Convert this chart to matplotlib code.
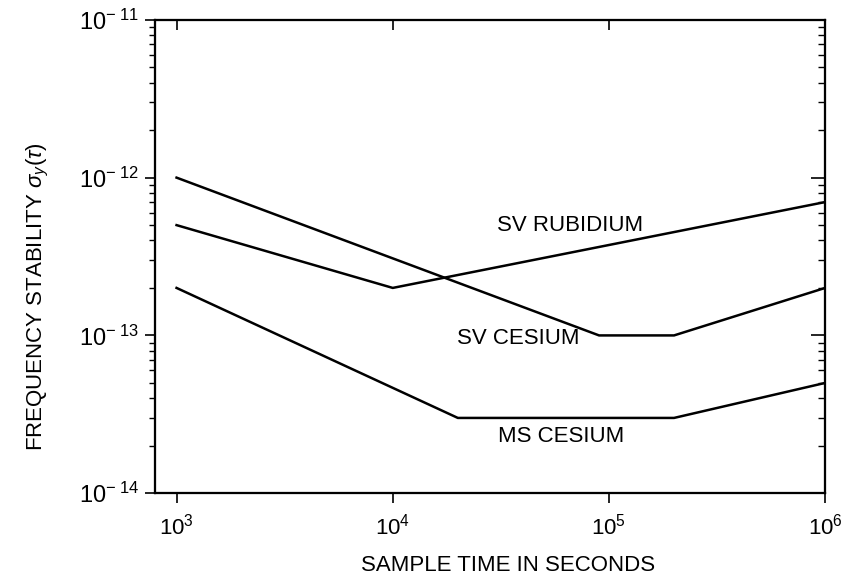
import matplotlib
matplotlib.use("Agg")
import matplotlib.pyplot as plt
from matplotlib.ticker import FixedLocator, LogLocator, NullFormatter

plt.rcParams['font.family'] = ['Liberation Sans', 'DejaVu Sans']
plt.rcParams['mathtext.fontset'] = 'custom'
plt.rcParams['mathtext.rm'] = 'Liberation Sans'
plt.rcParams['mathtext.it'] = 'Liberation Sans:italic'
plt.rcParams['mathtext.sf'] = 'Liberation Sans'

# data (sample time in s, sigma_y)
rb_tau = [1e3, 1e4, 1e6]
rb_sig = [5e-13, 2e-13, 7e-13]

svcs_tau = [1e3, 9e4, 2e5, 1e6]
svcs_sig = [1e-12, 1e-13, 1e-13, 2e-13]

mscs_tau = [1e3, 2e4, 2e5, 1e6]
mscs_sig = [2e-13, 3e-14, 3e-14, 5e-14]

x_ticks = [1e3, 1e4, 1e5, 1e6]
x_labels = [r'$10^{3}$', r'$10^{4}$', r'$10^{5}$', r'$10^{6}$']
y_ticks = [1e-14, 1e-13, 1e-12, 1e-11]
y_labels = [r'$10^{-\ 14}$', r'$10^{-\ 13}$', r'$10^{-\ 12}$', r'$10^{-\ 11}$']

fig = plt.figure(figsize=(8.42, 5.83), dpi=100)
ax = fig.add_axes([0.184, 0.154, 0.796, 0.812])

lw = 1.8
ax.plot(rb_tau, rb_sig, color='black', lw=lw)
ax.plot(svcs_tau, svcs_sig, color='black', lw=lw)
ax.plot(mscs_tau, mscs_sig, color='black', lw=lw)

ax.set_xscale('log')
ax.set_yscale('log')
ax.set_xlim(10 ** 2.9, 1e6)
ax.set_ylim(1e-14, 1e-11)

ax.xaxis.set_major_locator(FixedLocator(x_ticks))
ax.set_xticklabels(x_labels, fontsize=16)
ax.xaxis.set_minor_locator(FixedLocator([]))
ax.yaxis.set_major_locator(FixedLocator(y_ticks))
ax.set_yticklabels(y_labels, fontsize=17)
ax.yaxis.set_minor_locator(LogLocator(base=10, subs=range(2, 10)))
ax.yaxis.set_minor_formatter(NullFormatter())

ax.tick_params(axis='x', which='major', direction='out', length=7, width=1.2, pad=8)
ax.tick_params(axis='y', which='major', direction='out', length=7, width=1.2, pad=4)
ax.tick_params(axis='y', which='minor', direction='out', length=4, width=1.0)

# right and top: inward ticks, no labels
axr = ax.twinx()
axr.set_yscale('log')
axr.set_ylim(ax.get_ylim())
axr.yaxis.set_major_locator(FixedLocator(y_ticks))
axr.yaxis.set_minor_locator(LogLocator(base=10, subs=range(2, 10)))
axr.yaxis.set_major_formatter(NullFormatter())
axr.yaxis.set_minor_formatter(NullFormatter())
axr.tick_params(axis='y', which='major', direction='in', length=10, width=1.2)
axr.tick_params(axis='y', which='minor', direction='in', length=5, width=1.0)

axt = ax.twiny()
axt.set_xscale('log')
axt.set_xlim(ax.get_xlim())
axt.xaxis.set_major_locator(FixedLocator(x_ticks))
axt.xaxis.set_minor_locator(FixedLocator([]))
axt.xaxis.set_major_formatter(NullFormatter())
axt.tick_params(axis='x', which='major', direction='in', length=7, width=1.2)

for a in (ax, axr, axt):
    for s in a.spines.values():
        s.set_linewidth(1.5)

ax.text(6.6e4, 5.0e-13, 'SV RUBIDIUM', fontsize=16, ha='center', va='center')
ax.text(3.8e4, 9.6e-14, 'SV CESIUM', fontsize=16, ha='center', va='center')
ax.text(6.0e4, 2.3e-14, 'MS CESIUM', fontsize=16, ha='center', va='center')

ax.set_xlabel('SAMPLE TIME IN SECONDS', fontsize=16)
ax.xaxis.label.set_va('center')
ax.xaxis.set_label_coords(0.527, -0.152)
ax.set_ylabel(r'FREQUENCY STABILITY $\sigma_{y}(\tau)$', fontsize=16)
ax.yaxis.label.set_va('center')
ax.yaxis.set_label_coords(-0.175, 0.416)

fig.savefig('out.png', dpi=100)
